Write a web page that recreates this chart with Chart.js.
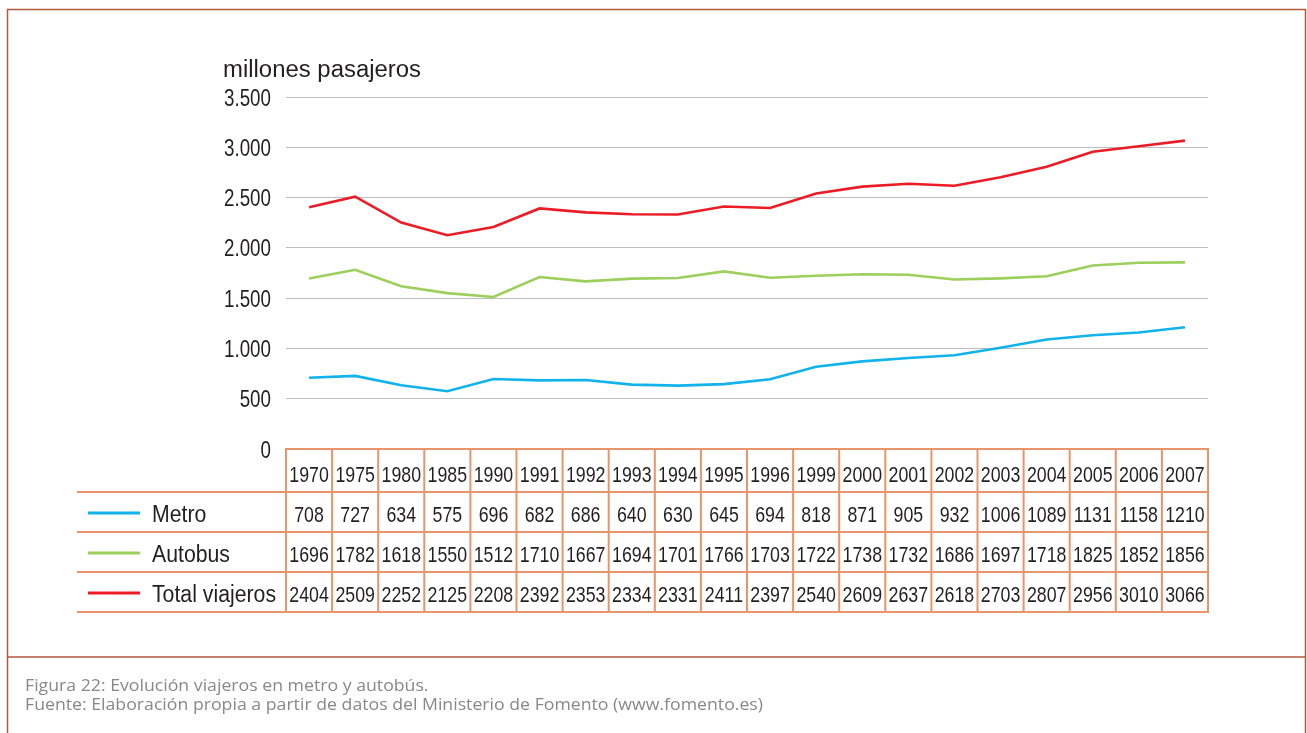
<!DOCTYPE html>
<html>
<head>
<meta charset="utf-8">
<script src="https://cdn.jsdelivr.net/npm/chart.js@4.4.1/dist/chart.umd.min.js"></script>
<style>
  html, body { margin: 0; padding: 0; background: #fff; }
  #wrap { position: relative; width: 1307px; height: 733px; }
</style>
</head>
<body>
<div id="wrap"><canvas id="c" width="1307" height="733"></canvas></div>
<script>
const years = ['1970','1975','1980','1985','1990','1991','1992','1993','1994','1995','1996','1999','2000','2001','2002','2003','2004','2005','2006','2007'];
const metro = [708,727,634,575,696,682,686,640,630,645,694,818,871,905,932,1006,1089,1131,1158,1210];
const autobus = [1696,1782,1618,1550,1512,1710,1667,1694,1701,1766,1703,1722,1738,1732,1686,1697,1718,1825,1852,1856];
const totalViajeros = [2404,2509,2252,2125,2208,2392,2353,2334,2331,2411,2397,2540,2609,2637,2618,2703,2807,2956,3010,3066];
const seriesNames = ['Metro','Autobus','Total viajeros'];
const yTitle = 'millones pasajeros';
const caption1 = 'Figura 22: Evolución viajeros en metro y autobús.';
const caption2 = 'Fuente: Elaboración propia a partir de datos del Ministerio de Fomento (www.fomento.es)';

const COLORS = ['#12b2ea', '#9ccf5c', '#ec1c27'];
const FONT = '"Liberation Sans", Arial, sans-serif';
const CAPFONT = '"Open Sans", "Liberation Sans", sans-serif';
const ORANGE = '#e8956b';
const FRAME = '#b4583c';
const TXT = '#231f20';

function fmt(v) { return String(v).replace(/\B(?=(\d{3})+(?!\d))/g, '.'); }

// draw text horizontally scaled by sx
function drawText(ctx, text, x, y, align, sx) {
  const w = ctx.measureText(text).width * sx;
  let lx = x;
  if (align === 'center') lx = x - w / 2;
  else if (align === 'right') lx = x - w;
  ctx.save();
  ctx.translate(lx, y);
  ctx.scale(sx, 1);
  ctx.textAlign = 'left';
  ctx.fillText(text, 0, 0);
  ctx.restore();
}
function fitScale(ctx, sample, target) { return target / ctx.measureText(sample).width; }

const tablePlugin = {
  id: 'tablePlugin',
  afterDraw(chart) {
    const ctx = chart.ctx;
    const x = chart.scales.x;
    const y = chart.scales.y;
    const area = chart.chartArea;
    const n = years.length;
    const cw = (x.getPixelForValue(1) - x.getPixelForValue(0));
    const left = x.getPixelForValue(0) - cw / 2;
    const right = x.getPixelForValue(n - 1) + cw / 2;
    const top = area.bottom;
    const rowsY = [top, top + 43, top + 83, top + 123, top + 163];
    const legendLeft = 77;
    ctx.save();
    ctx.textBaseline = 'alphabetic';

    // frame
    ctx.strokeStyle = FRAME;
    ctx.lineWidth = 1.5;
    ctx.beginPath();
    ctx.moveTo(7.5, 740); ctx.lineTo(7.5, 9.5); ctx.lineTo(1305.5, 9.5); ctx.lineTo(1305.5, 740);
    ctx.moveTo(7.5, 657); ctx.lineTo(1305.5, 657);
    ctx.stroke();

    // y title
    ctx.fillStyle = TXT;
    ctx.font = '23px ' + FONT;
    drawText(ctx, yTitle, 223, 77, 'left', fitScale(ctx, yTitle, 198));

    // y tick labels from the library's scale
    ctx.font = '23.5px ' + FONT;
    const tsx = fitScale(ctx, '3.500', 47);
    y.ticks.forEach(t => {
      const py = y.getPixelForValue(t.value);
      drawText(ctx, fmt(t.value), 271, py + 8.5, 'right', tsx);
    });

    // table lines
    ctx.strokeStyle = ORANGE;
    ctx.lineWidth = 2;
    ctx.beginPath();
    ctx.moveTo(left - 1, rowsY[0]); ctx.lineTo(right + 1, rowsY[0]);
    for (let r = 1; r < rowsY.length; r++) {
      ctx.moveTo(legendLeft, rowsY[r]); ctx.lineTo(right + 1, rowsY[r]);
    }
    for (let i = 0; i <= n; i++) {
      const px = left + i * cw;
      ctx.moveTo(px, rowsY[0]); ctx.lineTo(px, rowsY[4]);
    }
    ctx.stroke();

    // header years & values
    ctx.fillStyle = TXT;
    ctx.font = '22.5px ' + FONT;
    const dsx = fitScale(ctx, '2404', 39.5);
    years.forEach((yr, i) => {
      drawText(ctx, yr, x.getPixelForValue(i), 482, 'center', dsx);
    });
    const data = [metro, autobus, totalViajeros];
    ctx.font = '23px ' + FONT;
    const lsx = fitScale(ctx, 'Total viajeros', 124);
    data.forEach((arr, r) => {
      const cy = (rowsY[r + 1] + rowsY[r + 2]) / 2;
      ctx.font = '22.5px ' + FONT;
      arr.forEach((v, i) => {
        drawText(ctx, String(v), x.getPixelForValue(i), cy + 9.5, 'center', dsx);
      });
      // legend
      ctx.strokeStyle = COLORS[r];
      ctx.lineWidth = 3;
      ctx.beginPath();
      ctx.moveTo(88, cy + 1); ctx.lineTo(140, cy + 1);
      ctx.stroke();
      ctx.font = '23px ' + FONT;
      drawText(ctx, seriesNames[r], 152, cy + 9.5, 'left', lsx);
    });

    // caption
    ctx.fillStyle = '#888888';
    ctx.font = '15.5px ' + CAPFONT;
    const csx = fitScale(ctx, caption2, 738);
    drawText(ctx, caption1, 25, 691, 'left', csx);
    drawText(ctx, caption2, 25, 709.5, 'left', csx);
    ctx.restore();
  }
};

new Chart(document.getElementById('c'), {
  type: 'line',
  data: {
    labels: years,
    datasets: [
      { label: seriesNames[0], data: metro, borderColor: COLORS[0] },
      { label: seriesNames[1], data: autobus, borderColor: COLORS[1] },
      { label: seriesNames[2], data: totalViajeros, borderColor: COLORS[2] }
    ].map(d => Object.assign(d, { borderWidth: 2.6, pointRadius: 0, tension: 0, fill: false }))
  },
  options: {
    responsive: false,
    animation: false,
    devicePixelRatio: 1,
    layout: { padding: { left: 0, right: 99, top: 97, bottom: 284 } },
    plugins: { legend: { display: false }, tooltip: { enabled: false }, title: { display: false } },
    scales: {
      x: { display: false, offset: true },
      y: {
        min: 0, max: 3500,
        ticks: { stepSize: 500, display: false },
        grid: {
          drawTicks: false,
          lineWidth: 1,
          color: c => c.tick && c.tick.value === 0 ? 'rgba(0,0,0,0)' : '#bdbdbd'
        },
        border: { display: false },
        afterFit(scale) { scale.width = 286; }
      }
    }
  },
  plugins: [tablePlugin]
});
</script>
</body>
</html>
